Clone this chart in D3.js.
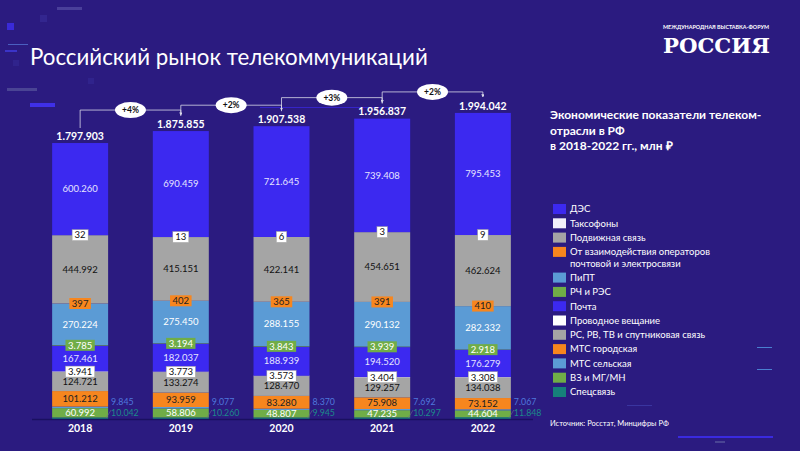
<!DOCTYPE html>
<html>
<head>
<meta charset="utf-8">
<script src="https://cdn.jsdelivr.net/npm/d3@7"></script>
<style>
  html, body { margin: 0; padding: 0; background: #2b1b80; }
  svg { display: block; font-family: Lato, "Open Sans", sans-serif; }
</style>
</head>
<body>
<svg id="chart" width="800" height="451"></svg>
<script>
// Years on the x axis
const years = ["2018", "2019", "2020", "2021", "2022"];

// Series values, million rubles (legend order, top of stack first)
const des        = [600260, 690459, 721645, 739408, 795453];
const taksofony  = [32, 13, 6, 3, 9];
const podvizhnaya = [444992, 415151, 422141, 454651, 462624];
const vzaimodeistvie = [397, 402, 365, 391, 410];
const pipt       = [270224, 275450, 288155, 290132, 282332];
const rchRes     = [3785, 3194, 3843, 3939, 2918];
const pochta     = [167461, 182037, 188939, 194520, 176279];
const provodnoe  = [3941, 3773, 3573, 3404, 3308];
const rsRvTv     = [124721, 133274, 128470, 129257, 134038];
const mtsGor     = [101212, 93959, 83280, 75908, 73152];
const mtsSel     = [9845, 9077, 8370, 7692, 7067];
const vzMgMn     = [60992, 58806, 48807, 47235, 44604];
const specsvyaz  = [10042, 10260, 9945, 10297, 11848];

// Totals and year-on-year growth shown over the bars
const totals = [1797903, 1875855, 1907538, 1956837, 1994042];
const growth = ["+4%", "+2%", "+3%", "+2%"];

const BG = "#2b1b80";
const BLUE = "#3c29f0", GRAY = "#a5a5a5", ORANGE = "#f7861e",
      LBLUE = "#5b9bd5", GREEN = "#70ad47", TEAL = "#16807a";

// label: "in" = text inside the segment, "box" = small boxed text, "side" = text right of the bar
const series = [
  { key: "des", name: "ДЭС", values: des, color: BLUE, label: "in", text: "#e6e4ff" },
  { key: "taks", name: "Таксофоны", values: taksofony, color: "#f1effa", label: "box", box: "#ffffff", text: "#111" },
  { key: "podv", name: "Подвижная связь", values: podvizhnaya, color: GRAY, label: "in", text: "#111" },
  { key: "vzai", name: ["От взаимодействия операторов", "почтовой и электросвязи"], values: vzaimodeistvie, color: ORANGE, label: "box", box: ORANGE, text: "#222" },
  { key: "pipt", name: "ПиПТ", values: pipt, color: LBLUE, label: "in", text: "#ffffff" },
  { key: "rch", name: "РЧ и РЭС", values: rchRes, color: GREEN, label: "box", box: GREEN, text: "#ffffff" },
  { key: "poch", name: "Почта", values: pochta, color: BLUE, label: "in", text: "#e6e4ff" },
  { key: "prov", name: "Проводное вещание", values: provodnoe, color: "#ffffff", label: "box", box: "#ffffff", text: "#111" },
  { key: "rs", name: "РС, РВ, ТВ и спутниковая связь", values: rsRvTv, color: GRAY, label: "in", text: "#111" },
  { key: "mtsg", name: "МТС городская", values: mtsGor, color: ORANGE, label: "in", text: "#222" },
  { key: "mtss", name: "МТС сельская", values: mtsSel, color: LBLUE, label: "side", text: "#4f78dc", off: 17 },
  { key: "vz", name: "ВЗ и МГ/МН", values: vzMgMn, color: GREEN, label: "in", text: "#ffffff" },
  { key: "spec", name: "Спецсвязь", values: specsvyaz, color: TEAL, label: "side", text: "#1c8a8a", off: 6 }
];

// Number format with dots as thousands separator
const fmt = d3.formatLocale({ decimal: ",", thousands: ".", grouping: [3], currency: ["", ""] }).format(",d");

const svg = d3.select("#chart");

svg.append("rect").attr("width", 800).attr("height", 451).attr("fill", BG);

// faint background decorations
const deco = [
  [57, 7, 25, 3, "#4a3f9a"], [40, 15, 7, 7, "#33268f"], [7, 23, 7, 7, "#3a2ad8"],
  [8, 44, 20, 1, "#4a5fc0"], [5, 50, 12, 2, "#3b34c8"], [13, 60, 6, 6, "#30238c"],
  [88, 78, 6, 6, "#30238c"], [7, 88, 30, 3, "#4a4494"], [30, 103, 25, 4, "#3f30e8"],
  [757, 347, 15, 1, "#4a7fd0"], [757, 369, 15, 1, "#4a7fd0"], [627, 405, 25, 1, "#3a35a0"],
  [678, 436, 95, 2, "#3a2ae0"], [715, 441, 10, 2, "#4a4494"], [260, 107, 140, 1, "#3624c8"]
];
svg.selectAll(".deco").data(deco).enter().append("rect")
  .attr("class", "deco")
  .attr("x", d => d[0]).attr("y", d => d[1])
  .attr("width", d => d[2]).attr("height", d => d[3])
  .attr("fill", d => d[4]);

// Title, fitted to the width it takes in the original
const title = svg.append("text")
  .attr("x", 30).attr("y", 65)
  .attr("fill", "#ffffff")
  .style("font-size", "23px")
  .text("Российский рынок телекоммуникаций");
const tw = title.node().getComputedTextLength();
title.style("font-size", (23 * 398 / tw) + "px");

// Logo
svg.append("text")
  .attr("x", 663).attr("y", 29)
  .attr("fill", "#ffffff")
  .style("font-size", "5.6px").style("font-weight", "bold")
  .attr("textLength", 106).attr("lengthAdjust", "spacingAndGlyphs")
  .text("МЕЖДУНАРОДНАЯ ВЫСТАВКА-ФОРУМ");
svg.append("text")
  .attr("x", 663).attr("y", 53)
  .attr("fill", "#ffffff")
  .style("font-family", "'DejaVu Serif', serif")
  .style("font-size", "20px").style("font-weight", "bold")
  .attr("textLength", 107).attr("lengthAdjust", "spacingAndGlyphs")
  .text("РОССИЯ");

// Build table for the stack
const table = years.map((y, i) => {
  const row = { year: y };
  series.forEach(s => row[s.key] = s.values[i]);
  return row;
});

// Stack bottom to top (reverse of legend order)
const stackKeys = series.map(s => s.key).reverse();
const stacked = d3.stack().keys(stackKeys)(table);

// Scales
const x = d3.scaleBand().domain(years).range([32, 531]).paddingInner(0.444).paddingOuter(0.2);
const y = d3.scaleLinear().domain([0, 2000000]).range([419, 112]);

// Bars
const layers = svg.append("g").selectAll("g")
  .data(stacked)
  .enter().append("g")
  .attr("fill", d => series.find(s => s.key === d.key).color);

layers.selectAll("rect")
  .data(d => d)
  .enter().append("rect")
  .attr("x", d => x(d.data.year))
  .attr("width", x.bandwidth())
  .attr("y", d => y(d[1]))
  .attr("height", d => y(d[0]) - y(d[1]));

// Axis line along the bottom
svg.append("line")
  .attr("x1", 32).attr("x2", 533)
  .attr("y1", y(0) + 0.5).attr("y2", y(0) + 0.5)
  .attr("stroke", "#1a1060").attr("stroke-width", 1.5);

// X axis labels
const xAxis = d3.axisBottom(x).tickSize(0).tickPadding(6);
svg.append("g")
  .attr("transform", "translate(0," + y(0) + ")")
  .call(xAxis)
  .call(g => g.select(".domain").remove())
  .selectAll("text")
  .attr("fill", "#ffffff")
  .style("font-family", "Lato, sans-serif")
  .style("font-size", "10.5px")
  .style("font-weight", "bold");

// Small leader lines from the bar corner to the side labels
svg.selectAll(".leader").data(years).enter().append("line")
  .attr("class", "leader")
  .attr("x1", d => x(d) + x.bandwidth() - 2).attr("y1", y(0) - 1)
  .attr("x2", d => x(d) + x.bandwidth() + 3).attr("y2", y(0) - 9)
  .attr("stroke", "#6a6a8a").attr("stroke-width", 0.6);

// Segment labels
const labelG = svg.append("g").style("font-size", "9px");
stacked.forEach(layer => {
  const s = series.find(ss => ss.key === layer.key);
  layer.forEach(d => {
    const cx = x(d.data.year) + x.bandwidth() / 2;
    const cy = (y(d[0]) + y(d[1])) / 2;
    const txt = fmt(d.data[layer.key]);
    if (s.label === "side") {
      // side labels sit at fixed heights above the baseline
      labelG.append("text")
        .attr("x", x(d.data.year) + x.bandwidth() + 3)
        .attr("y", y(0) - s.off)
        .attr("dy", "0.35em")
        .attr("fill", s.text)
        .style("font-size", "8.8px")
        .text(txt);
      return;
    }
    const t = labelG.append("text")
      .attr("x", cx).attr("y", cy)
      .attr("dy", "0.35em")
      .attr("text-anchor", "middle")
      .attr("fill", s.text)
      .style("font-size", "9.5px")
      .text(txt);
    if (s.label === "box") {
      const w = t.node().getComputedTextLength() + 5;
      labelG.insert("rect", () => t.node())
        .attr("x", cx - w / 2).attr("y", cy - 5.5)
        .attr("width", w).attr("height", 11)
        .attr("fill", s.box)
        .attr("stroke", s.box === "#ffffff" ? "#999" : "none")
        .attr("stroke-width", 0.5);
    }
  });
});

// Totals above the bars
svg.selectAll(".total").data(years).enter().append("text")
  .attr("class", "total")
  .attr("x", d => x(d) + x.bandwidth() / 2)
  .attr("y", (d, i) => y(totals[i]) - 7)
  .attr("dy", "0.35em")
  .attr("text-anchor", "middle")
  .attr("fill", "#ffffff")
  .style("font-size", "10.5px").style("font-weight", "bold")
  .text((d, i) => fmt(totals[i]));

// Growth connectors between bars
svg.append("defs").append("marker")
  .attr("id", "arrow")
  .attr("viewBox", "0 0 6 6").attr("refX", 5).attr("refY", 3)
  .attr("markerWidth", 4).attr("markerHeight", 4)
  .attr("orient", "auto")
  .append("path").attr("d", "M0,0L6,3L0,6Z").attr("fill", "#d8d8e8");

growth.forEach((g, i) => {
  const x1 = x(years[i]) + x.bandwidth() / 2;
  const x2 = x(years[i + 1]) + x.bandwidth() / 2;
  const l1 = y(totals[i]) - 7;
  const l2 = y(totals[i + 1]) - 7;
  const hy = l2 - 14;
  svg.append("path")
    .attr("d", `M${x1},${l1 - 8}V${hy}H${x2}V${l2 - 9}`)
    .attr("fill", "none")
    .attr("stroke", "#d8d8e8").attr("stroke-width", 0.8)
    .attr("marker-end", "url(#arrow)");
  const mx = (x1 + x2) / 2;
  svg.append("ellipse")
    .attr("cx", mx).attr("cy", hy)
    .attr("rx", 15.5).attr("ry", 8)
    .attr("fill", "#ffffff");
  svg.append("text")
    .attr("x", mx).attr("y", hy)
    .attr("dy", "0.35em")
    .attr("text-anchor", "middle")
    .attr("fill", "#111")
    .style("font-size", "8.5px").style("font-weight", "bold")
    .text(g);
});

// Legend title
const lt = svg.append("text")
  .attr("x", 550).attr("y", 115)
  .attr("fill", "#ffffff")
  .style("font-size", "12px").style("font-weight", "bold");
["Экономические показатели телеком-", "отрасли в РФ", "в 2018-2022 гг., млн ₽"].forEach((line, i) => {
  lt.append("tspan").attr("x", 550).attr("y", 119 + i * 15.5).text(line);
});

// Legend items
const legendRows = [];
let ly = 209;
series.forEach(s => {
  legendRows.push({ s: s, y: ly });
  ly += Array.isArray(s.name) ? 25.7 : 14.3;
});
const legend = svg.selectAll(".legend").data(legendRows).enter().append("g")
  .attr("class", "legend")
  .attr("transform", d => "translate(553," + d.y + ")");

legend.append("rect")
  .attr("x", 0).attr("y", -5)
  .attr("width", 13).attr("height", 10)
  .attr("fill", d => d.s.color);

legend.append("text")
  .attr("x", 17).attr("y", 0)
  .attr("dy", "0.35em")
  .attr("fill", "#ffffff")
  .style("font-size", "9.5px")
  .each(function(d) {
    const names = Array.isArray(d.s.name) ? d.s.name : [d.s.name];
    names.forEach((n, i) => {
      d3.select(this).append("tspan").attr("x", 17).attr("dy", i === 0 ? "0.35em" : "11.4px").text(n);
    });
  });

// Source note
svg.append("text")
  .attr("x", 550).attr("y", 426)
  .attr("fill", "#ffffff")
  .style("font-size", "7.5px")
  .text("Источник: Росстат, Минцифры РФ");
</script>
</body>
</html>
